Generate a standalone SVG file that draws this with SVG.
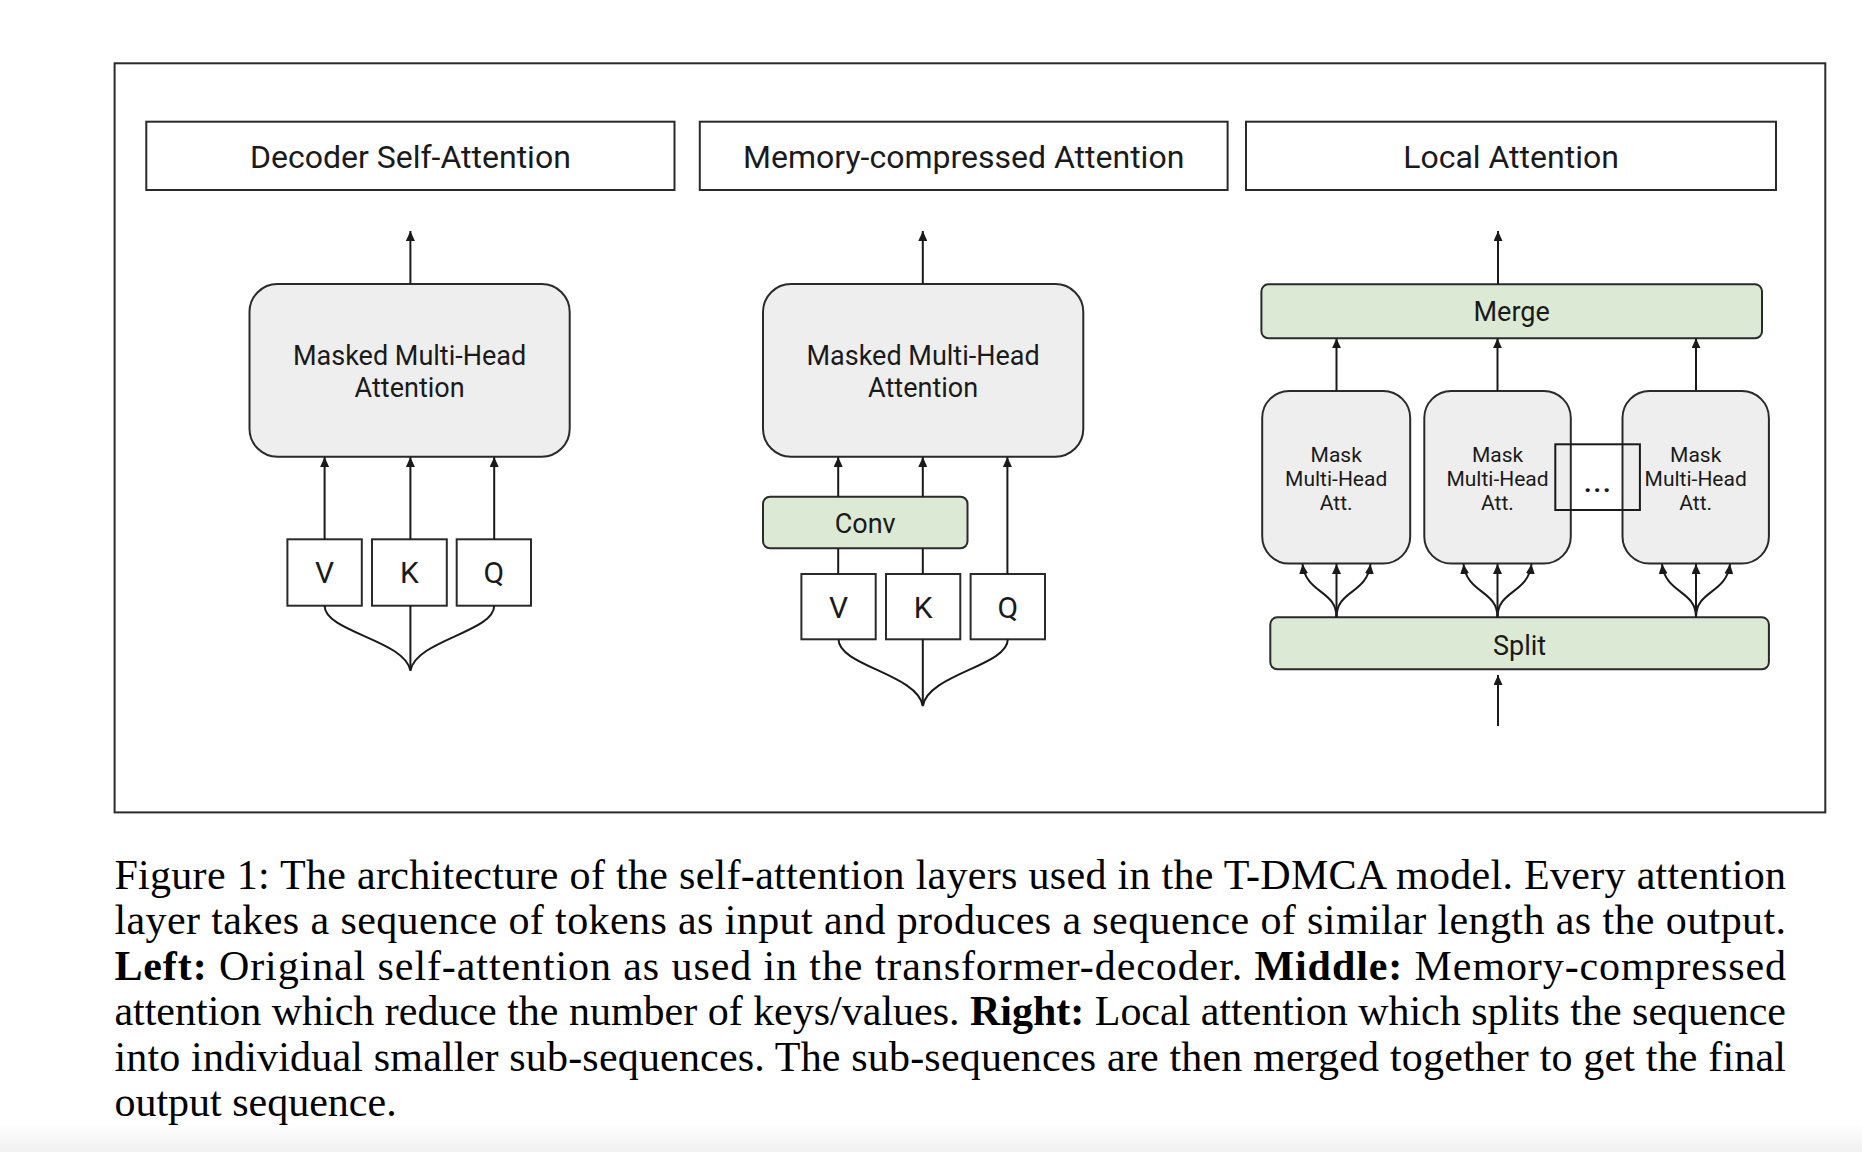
<svg xmlns="http://www.w3.org/2000/svg" width="1862" height="1152" viewBox="0 0 1862 1152">
<defs>
<marker id="ah" markerUnits="userSpaceOnUse" markerWidth="10" markerHeight="9" refX="10" refY="4.5" orient="auto">
<path d="M0,0 L10,4.5 L0,9 z" fill="#1a1a1a"/>
</marker>
<linearGradient id="fade" x1="0" y1="0" x2="0" y2="1">
<stop offset="0" stop-color="#ffffff"/>
<stop offset="1" stop-color="#f1f1f1"/>
</linearGradient>
<style>
.frame{fill:none;stroke:#2a2a2a;stroke-width:2}
.title{fill:#fff;stroke:#2a2a2a;stroke-width:2}
.gray{fill:#eeeeee;stroke:#2a2a2a;stroke-width:2}
.green{fill:#dce9d5;stroke:#2a2a2a;stroke-width:2}
.plain{fill:#fff;stroke:#2a2a2a;stroke-width:2}
.open{fill:none;stroke:#1a1a1a;stroke-width:2}
.t{font-family:Roboto,"Liberation Sans",sans-serif;fill:#1a1a1a;text-anchor:middle}
.t32{font-size:32px}
.t30{font-size:30px}
.t27{font-size:27px}
.t21{font-size:21px}
.dots{font-size:26px;font-weight:bold;letter-spacing:2px}
.ln{fill:none;stroke:#1a1a1a;stroke-width:2}
.arr{marker-end:url(#ah)}
.cap{font-family:"Liberation Serif","Times New Roman",serif;font-size:42px;fill:#000}
.b{font-weight:bold}
</style>
</defs>
<rect width="1862" height="1152" fill="#fff"/>
<rect x="0" y="1124" width="1862" height="28" fill="url(#fade)"/>
<rect id="frame" class="frame" x="114.6" y="63.3" width="1710.7" height="749.1"/>

<g id="title-decoder">
<rect class="title" x="146.3" y="121.7" width="528.2" height="68.3"/>
<text class="t t32" x="410.4" y="167.5">Decoder Self-Attention</text>
</g>
<g id="title-memory">
<rect class="title" x="699.8" y="121.7" width="527.8" height="68.3"/>
<text class="t t32" x="963.7" y="167.5">Memory-compressed Attention</text>
</g>
<g id="title-local">
<rect class="title" x="1246" y="121.7" width="530" height="68.3"/>
<text class="t t32" x="1511" y="167.5">Local Attention</text>
</g>

<g id="mmha-left">
<rect class="gray" x="249.5" y="284" width="320.2" height="172.7" rx="28" ry="28"/>
<text class="t t27" x="409.6" y="365">Masked Multi-Head</text>
<text class="t t27" x="409.6" y="397">Attention</text>
</g>
<g id="v-left">
<rect class="plain" x="287.4" y="539.3" width="74.4" height="66.4"/>
<text class="t t30" x="324.6" y="583">V</text>
</g>
<g id="k-left">
<rect class="plain" x="372" y="539.3" width="74.8" height="66.4"/>
<text class="t t30" x="409.4" y="583">K</text>
</g>
<g id="q-left">
<rect class="plain" x="456.7" y="539.3" width="74.3" height="66.4"/>
<text class="t t30" x="493.9" y="583">Q</text>
</g>

<g id="mmha-middle">
<rect class="gray" x="763" y="284" width="320.3" height="172.7" rx="28" ry="28"/>
<text class="t t27" x="923.1" y="365">Masked Multi-Head</text>
<text class="t t27" x="923.1" y="397">Attention</text>
</g>
<g id="conv">
<rect class="green" x="763" y="496.7" width="204.5" height="51.6" rx="7" ry="7"/>
<text class="t t27" x="865.2" y="532.5">Conv</text>
</g>
<g id="v-middle">
<rect class="plain" x="801.4" y="574" width="74.3" height="65.3"/>
<text class="t t30" x="838.5" y="618">V</text>
</g>
<g id="k-middle">
<rect class="plain" x="886" y="574" width="74.3" height="65.3"/>
<text class="t t30" x="923.1" y="618">K</text>
</g>
<g id="q-middle">
<rect class="plain" x="970.6" y="574" width="74.4" height="65.3"/>
<text class="t t30" x="1007.8" y="618">Q</text>
</g>

<g id="merge">
<rect class="green" x="1261.4" y="284.3" width="500.6" height="54" rx="7" ry="7"/>
<text class="t t27" x="1511.7" y="320.7">Merge</text>
</g>
<g id="att-a">
<rect class="gray" x="1262.2" y="391" width="148" height="172.5" rx="27" ry="27"/>
<text class="t t21" x="1336.2" y="461.5">Mask</text>
<text class="t t21" x="1336.2" y="485.5">Multi-Head</text>
<text class="t t21" x="1336.2" y="509.5">Att.</text>
</g>
<g id="att-b">
<rect class="gray" x="1424.3" y="391" width="146.5" height="172.5" rx="27" ry="27"/>
<text class="t t21" x="1497.5" y="461.5">Mask</text>
<text class="t t21" x="1497.5" y="485.5">Multi-Head</text>
<text class="t t21" x="1497.5" y="509.5">Att.</text>
</g>
<g id="att-c">
<rect class="gray" x="1622.5" y="391" width="146.4" height="172.5" rx="27" ry="27"/>
<text class="t t21" x="1695.7" y="461.5">Mask</text>
<text class="t t21" x="1695.7" y="485.5">Multi-Head</text>
<text class="t t21" x="1695.7" y="509.5">Att.</text>
</g>
<g id="ellipsis">
<rect class="open" x="1555.3" y="444.3" width="84.6" height="65.7"/>
<text class="t dots" x="1598.3" y="492">...</text>
</g>
<g id="split">
<rect class="green" x="1270.3" y="617.3" width="498.6" height="52" rx="7" ry="7"/>
<text class="t t27" x="1519.6" y="655">Split</text>
</g>

<g id="connectors">
<line class="ln arr" x1="410.4" y1="284" x2="410.4" y2="231"/>
<line class="ln arr" x1="324.6" y1="539.3" x2="324.6" y2="457"/>
<line class="ln arr" x1="410.4" y1="539.3" x2="410.4" y2="457"/>
<line class="ln arr" x1="494.2" y1="539.3" x2="494.2" y2="457"/>
<path class="ln" d="M324.6,605.7 C324.6,632 405,640 410.4,670.7 C415.8,640 494.2,632 494.2,605.7"/>
<line class="ln" x1="410.4" y1="605.7" x2="410.4" y2="670.7"/>

<line class="ln arr" x1="922.8" y1="284" x2="922.8" y2="231"/>
<line class="ln arr" x1="838.2" y1="496.7" x2="838.2" y2="457"/>
<line class="ln arr" x1="922.8" y1="496.7" x2="922.8" y2="457"/>
<line class="ln arr" x1="1007.4" y1="574" x2="1007.4" y2="457"/>
<line class="ln" x1="838.2" y1="574" x2="838.2" y2="548.3"/>
<line class="ln" x1="922.8" y1="574" x2="922.8" y2="548.3"/>
<path class="ln" d="M838.5,639.3 C838.5,666 917.4,674 922.8,706 C928.2,674 1007.8,666 1007.8,639.3"/>
<line class="ln" x1="922.8" y1="639.3" x2="922.8" y2="706"/>

<line class="ln arr" x1="1498" y1="284.3" x2="1498" y2="231"/>
<line class="ln arr" x1="1336.5" y1="391" x2="1336.5" y2="338.3"/>
<line class="ln arr" x1="1497.5" y1="391" x2="1497.5" y2="338.3"/>
<line class="ln arr" x1="1696" y1="391" x2="1696" y2="338.3"/>
<line class="ln arr" x1="1498" y1="726" x2="1498" y2="675"/>

<line class="ln arr" x1="1336.5" y1="617.3" x2="1336.5" y2="564"/>
<path class="ln arr" d="M1336.5,617.3 C1336.5,590 1306,594 1302.5,564"/>
<path class="ln arr" d="M1336.5,617.3 C1336.5,590 1367,594 1370.5,564"/>
<line class="ln arr" x1="1497.5" y1="617.3" x2="1497.5" y2="564"/>
<path class="ln arr" d="M1497.5,617.3 C1497.5,590 1467,594 1463.5,564"/>
<path class="ln arr" d="M1497.5,617.3 C1497.5,590 1528,594 1531.5,564"/>
<line class="ln arr" x1="1696" y1="617.3" x2="1696" y2="564"/>
<path class="ln arr" d="M1696,617.3 C1696,590 1665.5,594 1662,564"/>
<path class="ln arr" d="M1696,617.3 C1696,590 1726.5,594 1730,564"/>
</g>

<g id="caption">
<text class="cap" x="114.4" y="888.5" textLength="1671.6" lengthAdjust="spacing">Figure 1: The architecture of the self-attention layers used in the T-DMCA model. Every attention</text>
<text class="cap" x="114.4" y="934" textLength="1671.6" lengthAdjust="spacing">layer takes a sequence of tokens as input and produces a sequence of similar length as the output.</text>
<text class="cap" x="114.4" y="979.5" textLength="1671.6" lengthAdjust="spacing"><tspan class="b">Left:</tspan> Original self-attention as used in the transformer-decoder. <tspan class="b">Middle:</tspan> Memory-compressed</text>
<text class="cap" x="114.4" y="1025" textLength="1671.6" lengthAdjust="spacing">attention which reduce the number of keys/values. <tspan class="b">Right:</tspan> Local attention which splits the sequence</text>
<text class="cap" x="114.4" y="1070.5" textLength="1671.6" lengthAdjust="spacing">into individual smaller sub-sequences. The sub-sequences are then merged together to get the final</text>
<text class="cap" x="114.4" y="1116">output sequence.</text>
</g>
</svg>
